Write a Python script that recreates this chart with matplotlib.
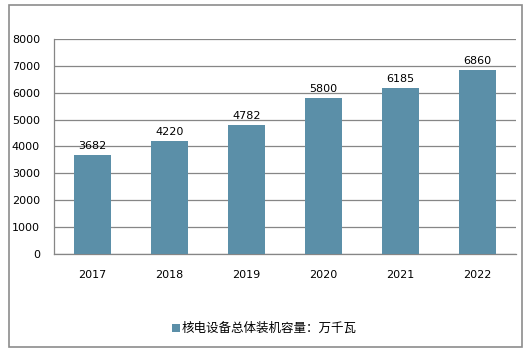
import matplotlib.pyplot as plt
from matplotlib.patches import Rectangle

# data
years = ['2017', '2018', '2019', '2020', '2021', '2022']
capacity = [3682, 4220, 4782, 5800, 6185, 6860]
series_name = '核电设备总体装机容量：万千瓦'

plt.rcParams['font.family'] = ['DejaVu Sans', 'Noto Sans CJK SC']

fig = plt.figure(figsize=(5.28, 3.55), dpi=100)
ax = fig.add_axes([0.102, 0.285, 0.875, 0.605])

bar_color = '#5B8FA8'
grid_color = '#868686'

x = range(len(years))
bars = ax.bar(x, capacity, width=0.48, color=bar_color, zorder=3)
for xi, v in zip(x, capacity):
    ax.text(xi, v + 150, str(v), ha='center', va='bottom', fontsize=8, color='black')

ax.set_xlim(-0.5, len(years) - 0.5)
ax.set_ylim(0, 8000)
ax.set_yticks(range(0, 8001, 1000))
ax.set_xticks(list(x))
ax.set_xticklabels(years)
ax.tick_params(axis='both', length=0, labelsize=8, colors='black')
ax.tick_params(axis='x', pad=12)
ax.tick_params(axis='y', pad=10)
ax.yaxis.grid(True, color=grid_color, linewidth=0.9, zorder=0)

for side in ['top', 'right']:
    ax.spines[side].set_visible(False)
for side in ['left', 'bottom']:
    ax.spines[side].set_color(grid_color)
    ax.spines[side].set_linewidth(0.9)

# legend at the bottom: square marker + label
fig.patches.append(Rectangle((172 / 528, 1 - 332 / 355), 8 / 528, 8 / 355,
                             transform=fig.transFigure, facecolor=bar_color,
                             edgecolor='none'))
fig.text(182 / 528, 1 - 328 / 355, series_name, fontsize=9, ha='left', va='center',
         family=['Noto Sans CJK SC', 'DejaVu Sans'])

# outer border
fig.patches.append(Rectangle((9 / 528, 1 - 347 / 355), 513 / 528, 342 / 355,
                             transform=fig.transFigure, fill=False,
                             edgecolor='#8c8c8c', linewidth=1.2))

fig.savefig('out.png', dpi=100)
